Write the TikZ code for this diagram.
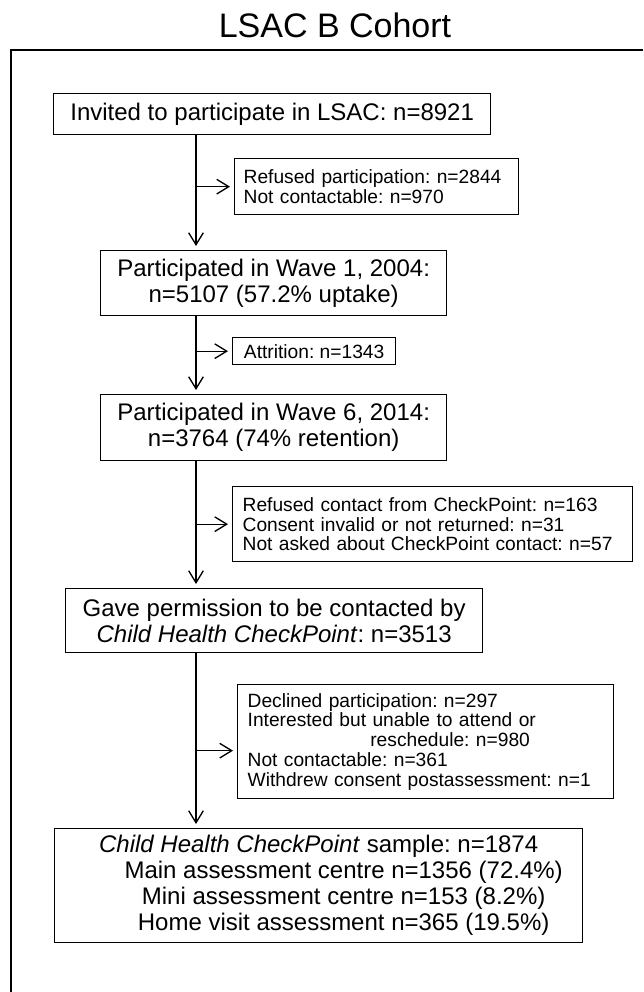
\documentclass[tikz,border=0pt]{standalone}
\usepackage{fontspec}
\setmainfont{Liberation Sans}
\usetikzlibrary{arrows.meta}
\frenchspacing

\tikzset{
  mainbox/.style={draw, line width=1pt, anchor=north west, align=center, inner sep=0pt, font=\fontsize{18}{19.5}\selectfont},
  sidebox/.style={draw, line width=1pt, anchor=north west, align=left, inner ysep=0pt, font=\fontsize{14.4}{14.8}\selectfont},
  flow/.style={line width=1pt, -{Straight Barb[length=9pt,width=11pt]}, shorten >=3pt},
}

\begin{document}
\begin{tikzpicture}[x=0.75pt,y=0.75pt,yscale=-1,xscale=1]
\useasboundingbox (0,0) rectangle (643,992);

% Title
\node (title) at (335,37) [anchor=base, font=\fontsize{25.5}{30}\selectfont] {LSAC B Cohort};
%Shape: Frame
\draw [line width=1pt] (11,992) |- (643,50);

% Main boxes
\node (invited) at (53,93) [mainbox, minimum width=327.75pt, minimum height=30.75pt] {Invited to participate in LSAC: n=8921};
\node (wave1) at (100,250) [mainbox, minimum width=259.5pt, minimum height=48.75pt] {Participated in Wave 1, 2004:\\ n=5107 (57.2\% uptake)};
\node (wave6) at (100,394) [mainbox, minimum width=259.5pt, minimum height=49.5pt] {Participated in Wave 6, 2014:\\ n=3764 (74\% retention)};
\node (permit) at (65,588) [mainbox, minimum width=312.75pt, minimum height=48pt] {Gave permission to be contacted by\\ \textit{Child Health CheckPoint}: n=3513};
\node (sample) at (54,828) [mainbox, minimum width=396pt, minimum height=85.5pt] {\textit{Child Health CheckPoint} sample: n=1874\\ \hspace*{37.5pt}Main assessment centre n=1356 (72.4\%)\\ \hspace*{37.5pt}Mini assessment centre n=153 (8.2\%)\\ \hspace*{37.5pt}Home visit assessment n=365 (19.5\%)};

% Exclusion boxes
\node (refused) at (234,158) [sidebox, text width=199.5pt, inner xsep=6.75pt, minimum height=42pt] {Refused participation: n=2844\\ Not contactable: n=970};
\node (attrition) at (232,337) [sidebox, align=center, inner xsep=0pt, minimum width=122.25pt, minimum height=20.25pt] {Attrition: n=1343};
\node (nocontact) at (232,486) [sidebox, text width=285pt, inner xsep=7.5pt, minimum height=56.25pt] {Refused contact from CheckPoint: n=163\\ Consent invalid or not returned: n=31\\ Not asked about CheckPoint contact: n=57};
\node (declined) at (237,684) [sidebox, text width=267pt, inner xsep=7.5pt, minimum height=85.5pt] {Declined participation: n=297\\ Interested but unable to attend or\\ \hspace*{92pt}reschedule: n=980\\ Not contactable: n=361\\ Withdrew consent postassessment: n=1};

%Straight Lines
\coordinate (trunk) at (196,0);
\coordinate (declinedin) at ([yshift=6.75pt]declined.west);
\draw [flow] (trunk |- invited.south) -- (trunk |- wave1.north);
\draw [flow] (trunk |- wave1.south) -- (trunk |- wave6.north);
\draw [flow] (trunk |- wave6.south) -- (trunk |- permit.north);
\draw [flow] (trunk |- permit.south) -- (trunk |- sample.north);
\draw [flow] (trunk |- refused.west) -- (refused.west);
\draw [flow] (trunk |- attrition.west) -- (attrition.west);
\draw [flow] (trunk |- nocontact.west) -- (nocontact.west);
\draw [flow] (trunk |- declinedin) -- (declinedin);

\end{tikzpicture}
\end{document}
